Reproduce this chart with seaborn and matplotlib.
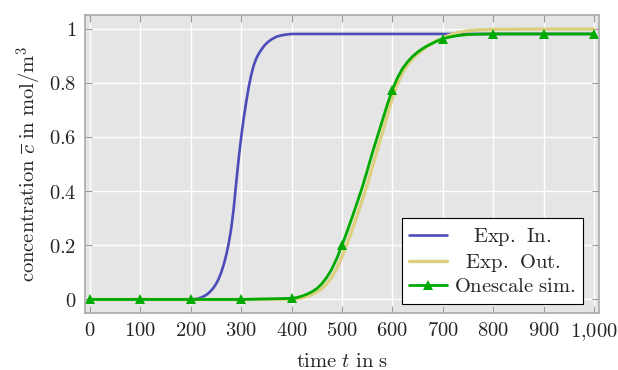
import numpy as np
import pandas as pd
import matplotlib
matplotlib.use("Agg")
import matplotlib.pyplot as plt
import seaborn as sns

# ---- data ----
t_in = [0, 100, 200, 205, 210, 215, 220, 225, 230, 235, 240, 245, 250, 255, 260, 265, 270, 275,
        280, 285, 290, 295, 300, 305, 310, 315, 320, 325, 330, 335, 340, 345, 350, 355, 360,
        370, 380, 390, 400, 450, 500, 600, 700, 800, 900, 1000]
c_in = [0.0, 0.0, 0.0, 0.001, 0.002, 0.004, 0.007, 0.011, 0.016, 0.023, 0.032, 0.043, 0.057,
        0.075, 0.098, 0.127, 0.162, 0.205, 0.26, 0.335, 0.43, 0.52, 0.6, 0.67, 0.73, 0.785,
        0.83, 0.865, 0.89, 0.908, 0.922, 0.935, 0.945, 0.953, 0.96, 0.97, 0.975, 0.978, 0.98,
        0.98, 0.98, 0.98, 0.98, 0.98, 0.98, 0.98]

t_out = [0, 100, 200, 300, 400, 410, 420, 430, 440, 450, 460, 470, 480, 490, 500, 510, 520,
         530, 540, 550, 560, 570, 580, 590, 600, 610, 620, 630, 640, 650, 660, 670, 680, 690,
         700, 710, 720, 730, 740, 750, 770, 800, 900, 1000]
c_out = [0.0, 0.0, 0.0, 0.0, 0.001, 0.003, 0.006, 0.011, 0.018, 0.027, 0.04, 0.058, 0.083,
         0.116, 0.158, 0.205, 0.256, 0.31, 0.365, 0.423, 0.487, 0.553, 0.615, 0.68, 0.745,
         0.795, 0.836, 0.866, 0.889, 0.907, 0.921, 0.935, 0.947, 0.957, 0.965, 0.973, 0.98,
         0.985, 0.989, 0.992, 0.995, 0.997, 0.998, 0.998]

t_sim = [0, 100, 200, 300, 400, 410, 420, 430, 440, 450, 460, 470, 480, 490, 500, 510, 520,
         530, 540, 550, 560, 570, 580, 590, 600, 610, 620, 630, 640, 650, 660, 670, 680, 690,
         700, 710, 720, 730, 740, 750, 770, 800, 900, 1000]
c_sim = [0.0, 0.0, 0.0, 0.0, 0.004, 0.007, 0.012, 0.019, 0.028, 0.04, 0.058, 0.082, 0.113,
         0.153, 0.2, 0.25, 0.303, 0.357, 0.413, 0.475, 0.54, 0.6, 0.66, 0.72, 0.775, 0.818,
         0.852, 0.877, 0.897, 0.913, 0.926, 0.937, 0.946, 0.955, 0.962, 0.967, 0.971, 0.974,
         0.976, 0.978, 0.979, 0.98, 0.98, 0.98]

x_ticks = [0, 100, 200, 300, 400, 500, 600, 700, 800, 900, 1000]
x_ticklabels = ["0", "100", "200", "300", "400", "500", "600", "700", "800", "900", "1{,}000"]
y_ticks = [0, 0.2, 0.4, 0.6, 0.8, 1.0]
y_ticklabels = ["0", "0.2", "0.4", "0.6", "0.8", "1"]

labels = [r"\mathrm{Exp.\ \hspace{0.1}In.}", r"\mathrm{Exp.\ \hspace{0.1}Out.}",
          r"\mathrm{Onescale\ sim.}"]
colors = ["#4b4bb9", "#dcd080", "#00aa00"]

# ---- style ----
sns.set_theme(style="darkgrid", rc={
    "axes.facecolor": "#e5e5e5",
    "grid.color": "white",
    "grid.linewidth": 1.0,
    "axes.edgecolor": "#aaaaaa",
    "axes.linewidth": 1.2,
})
plt.rcParams["mathtext.fontset"] = "cm"
plt.rcParams["font.family"] = ["DejaVu Serif", "DejaVu Sans"]

FS = 14.8
fig = plt.figure(figsize=(6.18, 3.70), dpi=100)
ax = fig.add_axes([85 / 618, 57 / 370, 514 / 618, 298 / 370])

sns.lineplot(x=t_in, y=c_in, ax=ax, color=colors[0], linewidth=1.9, label=f"${labels[0]}$")
sns.lineplot(x=t_out, y=c_out, ax=ax, color=colors[1], linewidth=2.4, label=f"${labels[1]}$")
mark = [int(t) % 100 == 0 for t in t_sim]
sns.lineplot(x=t_sim, y=c_sim, ax=ax, color=colors[2], linewidth=2.0, marker="^",
             markersize=7.5, markevery=mark, markeredgewidth=0, label=f"${labels[2]}$")

ax.set_xlim(-10, 1010)
ax.set_ylim(-0.05, 1.05)
ax.set_xticks(x_ticks)
ax.set_xticklabels([f"${s}$" for s in x_ticklabels])
ax.set_yticks(y_ticks)
ax.set_yticklabels([f"${s}$" for s in y_ticklabels])
ax.tick_params(axis="both", which="both", direction="in", length=5, width=0.8,
               color="#999999", labelsize=FS, top=True, right=True,
               bottom=True, left=True)
ax.tick_params(axis="x", pad=6)
ax.tick_params(axis="y", pad=6)
for s in ax.spines.values():
    s.set_visible(True)
    s.set_color("#aaaaaa")

ax.set_xlabel(r"$\mathrm{time}\ t\ \mathrm{in\ s}$", fontsize=FS, labelpad=6)
ax.set_ylabel(r"$\mathrm{concentration}\ \overline{c}\ \mathrm{in\ mol/m}^3$",
              fontsize=FS, labelpad=4)

leg = ax.legend(loc="lower right", bbox_to_anchor=(0.969, 0.03), frameon=True, fancybox=False,
                edgecolor="black", facecolor="white", framealpha=1, fontsize=FS,
                handlelength=1.85, handletextpad=0.3, borderpad=0.38, labelspacing=0.17,
                borderaxespad=0.0)
leg.get_frame().set_linewidth(0.8)

# centre the shorter legend entries (pgfplots-style centred legend cells)
fig.canvas.draw()
renderer = fig.canvas.get_renderer()
texts = leg.get_texts()
widths = [t.get_window_extent(renderer).width for t in texts]
wmax = max(widths)
em = FS * fig.dpi / 72.0
for t, w, lab in zip(texts, widths, labels):
    pad = (wmax - w) / 2.0 / em
    if pad > 0.01:
        t.set_text(rf"$\hspace{{{pad:.3f}}}{lab}$")

fig.savefig("out.png", dpi=100)
